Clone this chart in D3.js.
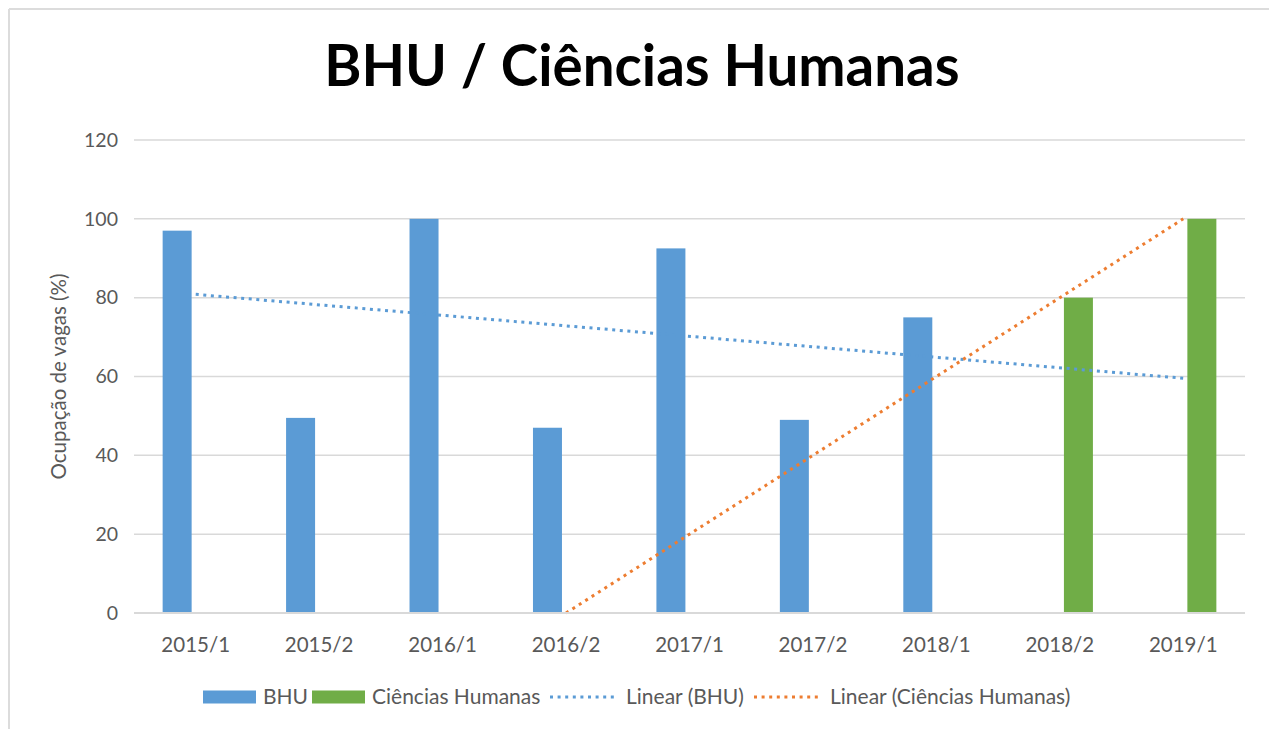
<!DOCTYPE html>
<html>
<head>
<meta charset="utf-8">
<script src="https://cdn.jsdelivr.net/npm/d3@7/dist/d3.min.js"></script>
<style>
  html, body { margin: 0; padding: 0; background: #fff; }
  text { font-family: Lato, "Open Sans", sans-serif; }
</style>
</head>
<body>
<svg id="chart" width="1269" height="729"></svg>
<script>
// chart data
var categories = ['2015/1', '2015/2', '2016/1', '2016/2', '2017/1', '2017/2', '2018/1', '2018/2', '2019/1'];
var seriesNames = ['BHU', 'Ciências Humanas'];
var bhuValues = [97, 49.5, 100, 47, 92.5, 49, 75, null, null];
var humanasValues = [null, null, null, null, null, null, null, 80, 100];
var yTicks = [0, 20, 40, 60, 80, 100, 120];

var colors = { 'BHU': '#5B9BD5', 'Ciências Humanas': '#70AD47' };
var trendColors = { 'BHU': '#5B9BD5', 'Ciências Humanas': '#ED7D31' };

var svg = d3.select('#chart');
var plot = { left: 134, right: 1245, top: 140, bottom: 613 };

// frame edges (top + left only visible in the reference)
svg.append('line').attr('x1', 9).attr('x2', 1269).attr('y1', 9).attr('y2', 9)
  .attr('stroke', '#dcdcdc').attr('stroke-width', 2);
svg.append('line').attr('x1', 9).attr('x2', 9).attr('y1', 9).attr('y2', 729)
  .attr('stroke', '#dcdcdc').attr('stroke-width', 2);

var x = d3.scaleBand().domain(categories).range([plot.left, plot.right]);
var bw = x.bandwidth();
var x1 = d3.scaleBand().domain(seriesNames)
  .range([bw * 0.232, bw * 0.768]).paddingInner(0.22);
var y = d3.scaleLinear().domain([0, 120]).range([plot.bottom, plot.top]);

// gridlines
svg.append('g').selectAll('line').data(yTicks).join('line')
  .attr('x1', plot.left).attr('x2', plot.right)
  .attr('y1', d => y(d)).attr('y2', d => y(d))
  .attr('stroke', '#d9d9d9').attr('stroke-width', 1.5);

// y tick labels
svg.append('g').selectAll('text').data(yTicks).join('text')
  .attr('x', 118).attr('y', d => y(d)).attr('dy', '0.35em')
  .attr('text-anchor', 'end').attr('fill', '#595959')
  .style('font-size', '19.5px').text(d => d);

// x tick labels
svg.append('g').selectAll('text').data(categories).join('text')
  .attr('x', d => x(d) + bw / 2).attr('y', 652)
  .attr('text-anchor', 'middle').attr('fill', '#595959')
  .style('font-size', '20.5px').text(d => d);

// bars
var seriesData = [
  { name: 'BHU', values: bhuValues },
  { name: 'Ciências Humanas', values: humanasValues }
];
seriesData.forEach(function(s) {
  var pts = categories.map((c, i) => ({ c: c, v: s.values[i] })).filter(p => p.v != null);
  svg.append('g').selectAll('rect').data(pts).join('rect')
    .attr('x', p => x(p.c) + x1(s.name))
    .attr('width', x1.bandwidth())
    .attr('y', p => y(p.v))
    .attr('height', p => y(0) - y(p.v))
    .attr('fill', colors[s.name]);
});

// linear trendlines (least squares on category index)
function trend(values) {
  var pts = values.map((v, i) => [i, v]).filter(p => p[1] != null);
  var mx = d3.mean(pts, p => p[0]), my = d3.mean(pts, p => p[1]);
  var sxy = d3.sum(pts, p => (p[0] - mx) * (p[1] - my));
  var sxx = d3.sum(pts, p => (p[0] - mx) * (p[0] - mx));
  var slope = sxy / sxx;
  var f = i => my + slope * (i - mx);
  var i0 = 0, i1 = categories.length - 1;
  // clip at the axis minimum
  if (f(i0) < 0) i0 = mx - my / slope;
  if (f(i1) < 0) i1 = mx - my / slope;
  return [[i0, f(i0)], [i1, f(i1)]];
}
var xi = i => plot.left + bw * (i + 0.5);
seriesData.forEach(function(s) {
  svg.append('path')
    .datum(trend(s.values))
    .attr('d', d3.line().x(p => xi(p[0])).y(p => y(Math.max(0, p[1]))))
    .attr('fill', 'none')
    .attr('stroke', trendColors[s.name])
    .attr('stroke-width', 3)
    .attr('stroke-dasharray', '3,4.6');
});

// x axis line
svg.append('line').attr('x1', plot.left).attr('x2', plot.right)
  .attr('y1', y(0)).attr('y2', y(0))
  .attr('stroke', '#d9d9d9').attr('stroke-width', 2);

// title
svg.append('text').attr('x', 642).attr('y', 86)
  .attr('text-anchor', 'middle').style('font-size', '56.5px')
  .style('font-weight', 'bold').attr('fill', '#000')
  .text('BHU / Ciências Humanas');

// y axis title
svg.append('text')
  .attr('transform', 'translate(66,' + ((plot.top + plot.bottom) / 2) + ') rotate(-90)')
  .attr('text-anchor', 'middle').attr('fill', '#595959')
  .style('font-size', '20.5px')
  .text('Ocupação de vagas (%)');

// legend
var legendItems = [
  { label: 'BHU', type: 'bar', color: colors['BHU'], x: 203 },
  { label: 'Ciências Humanas', type: 'bar', color: colors['Ciências Humanas'], x: 312 },
  { label: 'Linear (BHU)', type: 'line', color: trendColors['BHU'], x: 550 },
  { label: 'Linear (Ciências Humanas)', type: 'line', color: trendColors['Ciências Humanas'], x: 754 }
];
var lg = svg.append('g').selectAll('g').data(legendItems).join('g')
  .attr('transform', d => 'translate(' + d.x + ',697)');
lg.filter(d => d.type === 'bar').append('rect')
  .attr('x', 0).attr('y', -6.5).attr('width', 53).attr('height', 13)
  .attr('fill', d => d.color);
lg.filter(d => d.type === 'line').append('line')
  .attr('x1', 0).attr('x2', 68).attr('y1', 0).attr('y2', 0)
  .attr('stroke', d => d.color).attr('stroke-width', 3)
  .attr('stroke-dasharray', '3,4.6');
lg.append('text')
  .attr('x', d => d.type === 'bar' ? 60 : 76).attr('y', 0).attr('dy', '0.35em')
  .attr('fill', '#595959').style('font-size', '21px')
  .text(d => d.label);
</script>
</body>
</html>
